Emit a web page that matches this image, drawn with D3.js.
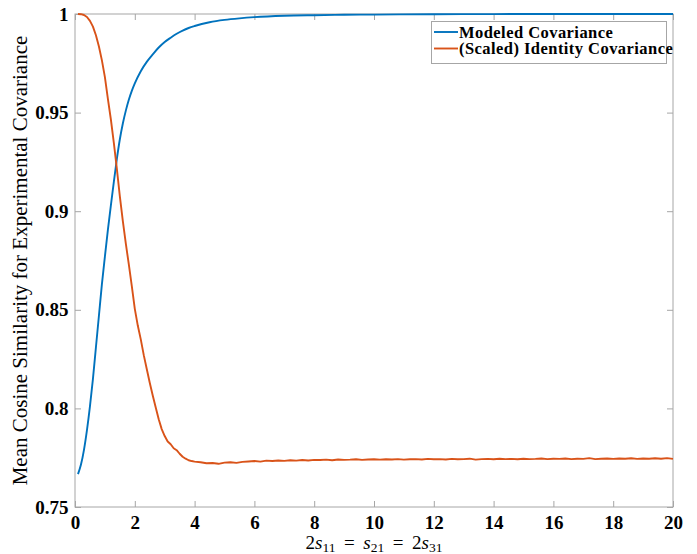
<!DOCTYPE html>
<html>
<head>
<meta charset="utf-8">
<script src="https://cdn.jsdelivr.net/npm/d3@7"></script>
<style>
  body { margin: 0; background: #fff; }
  svg { display: block; }
  svg text { font-family: "Liberation Serif", "Times New Roman", Times, "DejaVu Serif", serif !important; }
</style>
</head>
<body>
<svg id="chart" width="697" height="554"></svg>
<script>
// Mean cosine similarity vs. scale parameter for two covariance choices
const xTicks = [0, 2, 4, 6, 8, 10, 12, 14, 16, 18, 20];
const yTicks = [0.75, 0.8, 0.85, 0.9, 0.95, 1];
const yTickLabels = ["0.75", "0.8", "0.85", "0.9", "0.95", "1"];
const seriesNames = ["Modeled Covariance", "(Scaled) Identity Covariance"];

const modeledX = [0.1, 0.2, 0.3, 0.4, 0.5, 0.6, 0.7, 0.8, 0.9, 1.0, 1.1, 1.2, 1.3, 1.4, 1.5, 1.6, 1.7, 1.8, 1.9, 2.0,
  2.2, 2.4, 2.6, 2.8, 3.0, 3.2, 3.4, 3.6, 3.8, 4.0, 4.5, 5.0, 5.5, 6.0, 7.0, 8.0, 9.0, 10, 12, 14, 16, 18, 20];
const modeledY = [0.7667, 0.7715, 0.7790, 0.7890, 0.8010, 0.8150, 0.8310, 0.8470, 0.8630, 0.8770, 0.8905, 0.9030, 0.9150, 0.9265, 0.9365, 0.9445, 0.9510, 0.9565, 0.9610, 0.9648,
  0.9710, 0.9757, 0.9795, 0.9830, 0.9858, 0.9880, 0.9900, 0.9916, 0.9929, 0.9939, 0.9958, 0.9970, 0.9978, 0.9984, 0.9991, 0.9994, 0.9996, 0.9997, 0.9999, 0.99995, 1.0, 1.0, 1.0];

const identityX = [0.1, 0.2, 0.3, 0.4, 0.5, 0.6, 0.7, 0.8, 0.9, 1.0, 1.1, 1.2, 1.3, 1.4, 1.5, 1.6, 1.7, 1.8, 1.9, 2.0,
  2.1, 2.2, 2.3, 2.4, 2.5, 2.6, 2.7, 2.8, 2.9, 3.0, 3.1, 3.2, 3.3, 3.4, 3.5, 3.6, 3.7, 3.8, 3.9, 4.0,
  4.2, 4.4, 4.6, 4.8, 5.0, 5.2, 5.4, 5.6, 5.8, 6.0, 6.2, 6.4, 6.6, 6.8, 7.0, 7.2, 7.4, 7.6, 7.8, 8.0,
  8.2, 8.4, 8.6, 8.8, 9.0, 9.2, 9.4, 9.6, 9.8, 10.0, 10.2, 10.4, 10.6, 10.8, 11.0, 11.2, 11.4, 11.6, 11.8, 12.0,
  12.2, 12.4, 12.6, 12.8, 13.0, 13.2, 13.4, 13.6, 13.8, 14.0, 14.2, 14.4, 14.6, 14.8, 15.0, 15.2, 15.4, 15.6, 15.8, 16.0,
  16.2, 16.4, 16.6, 16.8, 17.0, 17.2, 17.4, 17.6, 17.8, 18.0, 18.2, 18.4, 18.6, 18.8, 19.0, 19.2, 19.4, 19.6, 19.8, 20.0];
const identityY = [1.0000, 0.9999, 0.9995, 0.9985, 0.9965, 0.9936, 0.9892, 0.9835, 0.9765, 0.9680, 0.9570, 0.9465, 0.9345, 0.9215, 0.9075, 0.8950, 0.8835, 0.8730, 0.8620, 0.8505,
  0.8420, 0.8350, 0.8270, 0.8200, 0.8130, 0.8065, 0.8005, 0.7945, 0.7895, 0.7860, 0.7832, 0.7818, 0.7798, 0.7788, 0.7770, 0.7755, 0.7745, 0.7737, 0.7733, 0.7730,
  0.7727, 0.7722, 0.7723, 0.7719, 0.7725, 0.7727, 0.7724, 0.7729, 0.7731, 0.7733, 0.7730, 0.7735, 0.7733, 0.7736, 0.7734, 0.7737, 0.7735, 0.7738, 0.7736, 0.7739,
  0.7738, 0.7740, 0.7737, 0.7741, 0.7739, 0.7740, 0.7742, 0.7739, 0.7741, 0.7742, 0.7740, 0.7742, 0.7741, 0.7743, 0.7740, 0.7742, 0.7743, 0.7741, 0.7744, 0.7742,
  0.7743, 0.7741, 0.7744, 0.7742, 0.7743, 0.7745, 0.7740, 0.7743, 0.7744, 0.7742, 0.7745, 0.7743, 0.7744, 0.7742, 0.7745, 0.7743, 0.7744, 0.7746, 0.7743, 0.7745,
  0.7744, 0.7746, 0.7743, 0.7745, 0.7744, 0.7748, 0.7743, 0.7745, 0.7746, 0.7744, 0.7746, 0.7745, 0.7747, 0.7744, 0.7746, 0.7745, 0.7747, 0.7745, 0.7748, 0.7744];

const colors = ["#0072BD", "#D95319"];
const serif = '"Liberation Serif", "Times New Roman", Times, "DejaVu Serif", serif';

const svg = d3.select("#chart");
const margin = { left: 75, right: 24, top: 14, bottom: 47 };
const W = 697, H = 554;
const x = d3.scaleLinear().domain([0, 20]).range([margin.left, W - margin.right]);
const y = d3.scaleLinear().domain([0.75, 1]).range([H - margin.bottom, margin.top]);

const axisColor = "#a6a6a6";
const tickLen = 6;

// frame box
svg.append("rect")
  .attr("x", x(0)).attr("y", y(1))
  .attr("width", x(20) - x(0)).attr("height", y(0.75) - y(1))
  .attr("fill", "none").attr("stroke", axisColor).attr("stroke-width", 1);

// inward ticks on all four sides
const fmtY = d => yTickLabels[yTicks.indexOf(d)];
function styleAxis(g) {
  g.attr("font-family", serif);
  g.select(".domain").remove();
  g.selectAll(".tick line").attr("stroke", axisColor);
  g.selectAll(".tick text").attr("fill", "#000")
    .attr("font-family", serif)
    .style("font-weight", "bold").style("font-size", "19px");
}
svg.append("g").attr("transform", `translate(0,${y(0.75)})`)
  .call(d3.axisBottom(x).tickValues(xTicks).tickSizeInner(-tickLen).tickSizeOuter(0).tickPadding(9))
  .call(styleAxis);
svg.append("g").attr("transform", `translate(0,${y(1)})`)
  .call(d3.axisTop(x).tickValues(xTicks).tickSizeInner(-tickLen).tickSizeOuter(0).tickFormat(""))
  .call(styleAxis);
svg.append("g").attr("transform", `translate(${x(0)},0)`)
  .call(d3.axisLeft(y).tickValues(yTicks).tickFormat(fmtY).tickSizeInner(-tickLen).tickSizeOuter(0).tickPadding(6.5))
  .call(styleAxis);
svg.append("g").attr("transform", `translate(${x(20)},0)`)
  .call(d3.axisRight(y).tickValues(yTicks).tickSizeInner(-tickLen).tickSizeOuter(0).tickFormat(""))
  .call(styleAxis);

// curves
const line = d3.line().x(d => x(d[0])).y(d => y(d[1]));
const curve = d3.line().curve(d3.curveMonotoneX).x(d => x(d[0])).y(d => y(d[1]));
const series = [
  d3.zip(modeledX, modeledY),
  d3.zip(identityX, identityY)
];
series.forEach((pts, i) => {
  svg.append("path").datum(pts)
    .attr("d", i === 0 ? curve : line)
    .attr("fill", "none").attr("stroke", colors[i])
    .attr("stroke-width", 1.9).attr("stroke-linejoin", "round");
});

// legend
const lg = svg.append("g");
lg.append("rect").attr("x", 431.5).attr("y", 21.5).attr("width", 235).attr("height", 42)
  .attr("fill", "#fff").attr("stroke", axisColor);
seriesNames.forEach((name, i) => {
  const cy = 32 + i * 16.5;
  lg.append("line").attr("x1", 434).attr("x2", 458).attr("y1", cy).attr("y2", cy)
    .attr("stroke", colors[i]).attr("stroke-width", 1.9);
  lg.append("text").attr("x", 459).attr("y", cy + 5.5)
    .attr("font-family", serif)
    .style("font-weight", "bold").style("font-size", "16.5px")
    .style("letter-spacing", "0.45px").text(name);
});

// axis titles
const xl = svg.append("text").attr("x", x(10)).attr("y", 549).attr("text-anchor", "middle")
  .attr("font-family", serif).style("font-size", "19px");
xl.append("tspan").text("2");
xl.append("tspan").style("font-style", "italic").text("s");
xl.append("tspan").attr("dy", 2.5).style("font-size", "13.5px").text("11");
xl.append("tspan").attr("dy", -2.5).text(" \u2009=\u2009 ");
xl.append("tspan").style("font-style", "italic").text("s");
xl.append("tspan").attr("dy", 2.5).style("font-size", "13.5px").text("21");
xl.append("tspan").attr("dy", -2.5).text(" \u2009=\u2009 2");
xl.append("tspan").style("font-style", "italic").text("s");
xl.append("tspan").attr("dy", 2.5).style("font-size", "13.5px").text("31");

svg.append("text")
  .attr("transform", `translate(27,${(y(0.75) + y(1)) / 2}) rotate(-90)`)
  .attr("text-anchor", "middle").attr("font-family", serif).style("font-size", "21px")
  .text("Mean Cosine Similarity for Experimental Covariance");
</script>
</body>
</html>
